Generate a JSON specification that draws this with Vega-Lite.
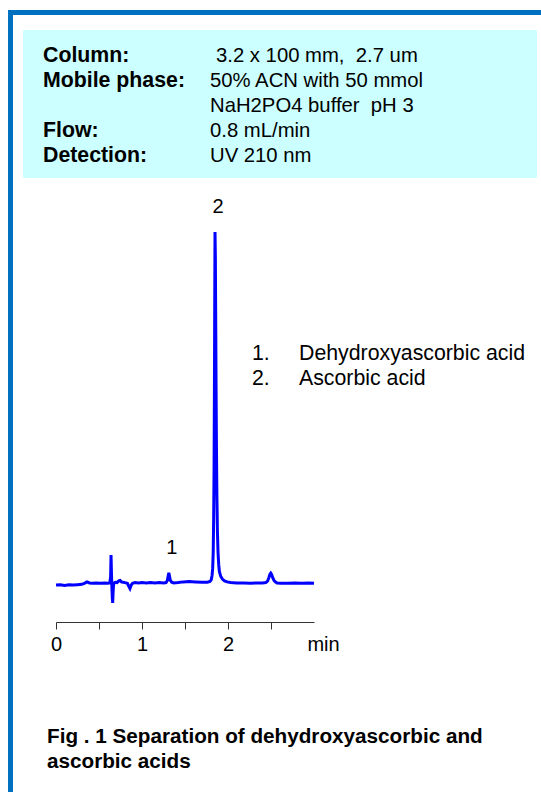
{
  "$schema": "https://vega.github.io/schema/vega-lite/v6.json",
  "width": 258,
  "height": 422,
  "autosize": {"type": "none"},
  "padding": {"left": 56, "top": 200, "right": 227, "bottom": 170},
  "background": "white",
  "config": {"view": {"stroke": null}, "font": "Liberation Sans"},
  "datasets": {
    "chrom": [
      {"t": 0.00, "signal": -0.3}, {"t": 0.05, "signal": -0.2}, {"t": 0.10, "signal": -0.4}, {"t": 0.15, "signal": -0.2},
      {"t": 0.20, "signal": -0.3}, {"t": 0.25, "signal": -0.2}, {"t": 0.30, "signal": -0.1}, {"t": 0.33, "signal": 0.2},
      {"t": 0.36, "signal": 0.6}, {"t": 0.39, "signal": 0.3}, {"t": 0.42, "signal": 0.2}, {"t": 0.47, "signal": 0.3},
      {"t": 0.52, "signal": 0.2}, {"t": 0.57, "signal": 0.3}, {"t": 0.60, "signal": 0.2}, {"t": 0.625, "signal": 0.3},
      {"t": 0.635, "signal": 2.0}, {"t": 0.640, "signal": 8.2}, {"t": 0.645, "signal": 3.0}, {"t": 0.650, "signal": -1.0},
      {"t": 0.655, "signal": -4.0}, {"t": 0.659, "signal": -5.4}, {"t": 0.663, "signal": -3.0}, {"t": 0.668, "signal": -0.5},
      {"t": 0.675, "signal": 0.3}, {"t": 0.69, "signal": 0.5}, {"t": 0.71, "signal": 0.4}, {"t": 0.73, "signal": 0.9},
      {"t": 0.745, "signal": 1.0}, {"t": 0.76, "signal": 0.6}, {"t": 0.78, "signal": 0.5}, {"t": 0.80, "signal": 0.4},
      {"t": 0.83, "signal": 0.2}, {"t": 0.845, "signal": -0.6}, {"t": 0.86, "signal": -1.3}, {"t": 0.875, "signal": -0.3},
      {"t": 0.89, "signal": 0.2}, {"t": 0.92, "signal": 0.4}, {"t": 0.96, "signal": 0.3}, {"t": 1.00, "signal": 0.4},
      {"t": 1.05, "signal": 0.3}, {"t": 1.10, "signal": 0.4}, {"t": 1.15, "signal": 0.3}, {"t": 1.20, "signal": 0.4},
      {"t": 1.25, "signal": 0.3}, {"t": 1.28, "signal": 0.4}, {"t": 1.295, "signal": 1.0}, {"t": 1.305, "signal": 2.4},
      {"t": 1.312, "signal": 3.2}, {"t": 1.32, "signal": 2.2}, {"t": 1.33, "signal": 1.0}, {"t": 1.345, "signal": 0.5},
      {"t": 1.37, "signal": 0.3}, {"t": 1.42, "signal": 0.4}, {"t": 1.48, "signal": 0.6}, {"t": 1.55, "signal": 0.7},
      {"t": 1.62, "signal": 0.6}, {"t": 1.70, "signal": 0.5}, {"t": 1.76, "signal": 0.5}, {"t": 1.79, "signal": 0.7},
      {"t": 1.805, "signal": 1.2}, {"t": 1.815, "signal": 2.5}, {"t": 1.822, "signal": 4.5}, {"t": 1.828, "signal": 9},
      {"t": 1.833, "signal": 18}, {"t": 1.838, "signal": 33}, {"t": 1.842, "signal": 55}, {"t": 1.846, "signal": 82},
      {"t": 1.849, "signal": 100}, {"t": 1.853, "signal": 93}, {"t": 1.857, "signal": 76}, {"t": 1.861, "signal": 57},
      {"t": 1.866, "signal": 38}, {"t": 1.871, "signal": 25}, {"t": 1.877, "signal": 15}, {"t": 1.884, "signal": 9},
      {"t": 1.892, "signal": 5.5}, {"t": 1.90, "signal": 3.5}, {"t": 1.915, "signal": 2.2}, {"t": 1.935, "signal": 1.4},
      {"t": 1.96, "signal": 0.9}, {"t": 1.99, "signal": 0.6}, {"t": 2.03, "signal": 0.4}, {"t": 2.10, "signal": 0.3},
      {"t": 2.18, "signal": 0.3}, {"t": 2.26, "signal": 0.2}, {"t": 2.34, "signal": 0.3}, {"t": 2.40, "signal": 0.3},
      {"t": 2.44, "signal": 0.4}, {"t": 2.46, "signal": 0.8}, {"t": 2.475, "signal": 1.8}, {"t": 2.488, "signal": 2.8},
      {"t": 2.497, "signal": 3.1}, {"t": 2.507, "signal": 2.7}, {"t": 2.52, "signal": 1.8}, {"t": 2.535, "signal": 1.0},
      {"t": 2.55, "signal": 0.6}, {"t": 2.57, "signal": 0.3}, {"t": 2.62, "signal": 0.2}, {"t": 2.70, "signal": 0.2},
      {"t": 2.78, "signal": 0.3}, {"t": 2.86, "signal": 0.2}, {"t": 2.94, "signal": 0.3}, {"t": 3.00, "signal": 0.2}
    ],
    "peaks": [
      {"peak": "1", "t": 1.312, "signal": 3.2},
      {"peak": "2", "t": 1.849, "signal": 100}
    ]
  },
  "layer": [
    {
      "data": {"name": "chrom"},
      "mark": {"type": "line", "color": "#0000FF", "strokeWidth": 3, "interpolate": "linear"},
      "encoding": {
        "x": {
          "field": "t", "type": "quantitative",
          "scale": {"domain": [0, 3], "nice": false, "zero": false},
          "axis": {
            "values": [0, 0.5, 1, 1.5, 2, 2.5],
            "labelExpr": "datum.value % 1 === 0 ? format(datum.value, 'd') : ''",
            "grid": false, "tickSize": 7, "tickColor": "#333333", "domainColor": "#333333",
            "tickWidth": 1, "domainWidth": 1,
            "labelColor": "black", "labelFontSize": 20, "labelFont": "Liberation Sans", "labelDx": 4,
            "labelBaseline": "alphabetic", "labelPadding": 21, "labelFlush": false, "labelOverlap": false,
            "title": "min", "titleX": 267, "titleY": 28, "titleAlign": "center", "titleBaseline": "alphabetic",
            "titleFontWeight": "normal", "titleFontSize": 20, "titleFont": "Liberation Sans", "titleColor": "black"
          }
        },
        "y": {
          "field": "signal", "type": "quantitative",
          "scale": {"domain": [-10.7955, 109.0909], "nice": false, "zero": false},
          "axis": null
        }
      }
    },
    {
      "data": {"values": [{"part": "top border"}]},
      "mark": {"type": "rect", "color": "#0070C0"},
      "encoding": {
        "x": {"datum": -0.5581, "type": "quantitative"},
        "x2": {"datum": 5.6395},
        "y": {"datum": 163.07, "type": "quantitative", "axis": null},
        "y2": {"datum": 161.65}
      }
    },
    {
      "data": {"values": [{"part": "left border"}]},
      "mark": {"type": "rect", "color": "#0070C0"},
      "encoding": {
        "x": {"datum": -0.5581, "type": "quantitative"},
        "x2": {"datum": -0.5},
        "y": {"datum": 163.07, "type": "quantitative", "axis": null},
        "y2": {"datum": -59.1}
      }
    },
    {
      "data": {"values": [{"part": "conditions box"}]},
      "mark": {"type": "rect", "color": "#CCFFFF"},
      "encoding": {
        "x": {"datum": -0.3837, "type": "quantitative"},
        "x2": {"datum": 5.593},
        "y": {"datum": 157.39, "type": "quantitative", "axis": null},
        "y2": {"datum": 115.34}
      }
    },
    {
      "data": {"values": [{"lines": ["Column:", "Mobile phase:"]}]},
      "mark": {"type": "text", "align": "left", "baseline": "alphabetic", "fontSize": 21.3, "fontWeight": "bold", "lineHeight": 25, "color": "black"},
      "encoding": {
        "x": {"datum": -0.1512, "type": "quantitative"},
        "y": {"datum": 148.3, "type": "quantitative", "axis": null},
        "text": {"field": "lines"}
      }
    },
    {
      "data": {"values": [{"lines": ["Flow:", "Detection:"]}]},
      "mark": {"type": "text", "align": "left", "baseline": "alphabetic", "fontSize": 21.3, "fontWeight": "bold", "lineHeight": 25, "color": "black"},
      "encoding": {
        "x": {"datum": -0.1512, "type": "quantitative"},
        "y": {"datum": 127.0, "type": "quantitative", "axis": null},
        "text": {"field": "lines"}
      }
    },
    {
      "data": {"values": [{"lines": ["3.2 x 100 mm,\u00a0 2.7 um"]}]},
      "mark": {"type": "text", "align": "left", "baseline": "alphabetic", "fontSize": 20.3, "color": "black"},
      "encoding": {
        "x": {"datum": 1.8605, "type": "quantitative"},
        "y": {"datum": 148.3, "type": "quantitative", "axis": null},
        "text": {"field": "lines"}
      }
    },
    {
      "data": {"values": [{"lines": ["50% ACN with 50 mmol", "NaH2PO4 buffer\u00a0 pH 3", "0.8 mL/min", "UV 210 nm"]}]},
      "mark": {"type": "text", "align": "left", "baseline": "alphabetic", "fontSize": 20.3, "lineHeight": 25, "color": "black"},
      "encoding": {
        "x": {"datum": 1.7907, "type": "quantitative"},
        "y": {"datum": 141.2, "type": "quantitative", "axis": null},
        "text": {"field": "lines"}
      }
    },
    {
      "data": {"name": "peaks"},
      "mark": {"type": "text", "align": "center", "baseline": "alphabetic", "fontSize": 20, "dy": -19, "dx": 3, "color": "black"},
      "encoding": {
        "x": {"field": "t", "type": "quantitative"},
        "y": {"field": "signal", "type": "quantitative", "axis": null},
        "text": {"field": "peak"}
      }
    },
    {
      "data": {"values": [{"lines": ["1.", "2."]}]},
      "mark": {"type": "text", "align": "left", "baseline": "alphabetic", "fontSize": 21.3, "lineHeight": 25, "color": "black"},
      "encoding": {
        "x": {"datum": 2.279, "type": "quantitative"},
        "y": {"datum": 63.64, "type": "quantitative", "axis": null},
        "text": {"field": "lines"}
      }
    },
    {
      "data": {"values": [{"lines": ["Dehydroxyascorbic acid", "Ascorbic acid"]}]},
      "mark": {"type": "text", "align": "left", "baseline": "alphabetic", "fontSize": 21.3, "lineHeight": 25, "color": "black"},
      "encoding": {
        "x": {"datum": 2.8256, "type": "quantitative"},
        "y": {"datum": 63.64, "type": "quantitative", "axis": null},
        "text": {"field": "lines"}
      }
    },
    {
      "data": {"values": [{"lines": ["Fig . 1 Separation of dehydroxyascorbic and", "ascorbic acids"]}]},
      "mark": {"type": "text", "align": "left", "baseline": "alphabetic", "fontSize": 20.7, "fontWeight": "bold", "lineHeight": 25, "color": "black"},
      "encoding": {
        "x": {"datum": -0.1047, "type": "quantitative"},
        "y": {"datum": -45.17, "type": "quantitative", "axis": null},
        "text": {"field": "lines"}
      }
    }
  ]
}
